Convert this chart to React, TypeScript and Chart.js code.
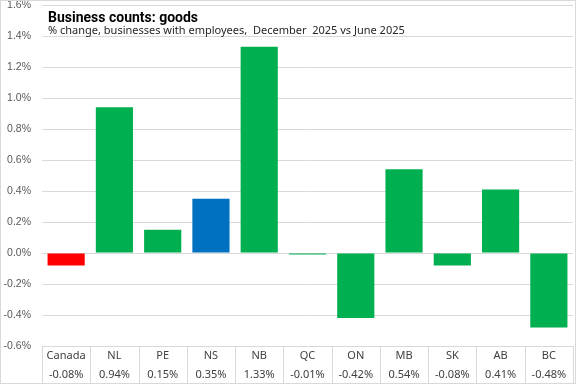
import React, { useEffect, useRef } from "react";
import { Chart, registerables } from "chart.js";

Chart.register(...registerables);

const categories = ["Canada", "NL", "PE", "NS", "NB", "QC", "ON", "MB", "SK", "AB", "BC"];
const values = [-0.08, 0.94, 0.15, 0.35, 1.33, -0.01, -0.42, 0.54, -0.08, 0.41, -0.48];
const valueLabels = ["-0.08%", "0.94%", "0.15%", "0.35%", "1.33%", "-0.01%", "-0.42%", "0.54%", "-0.08%", "0.41%", "-0.48%"];
const barColors = ["#FF0000", "#00B050", "#00B050", "#0070C0", "#00B050", "#00B050", "#00B050", "#00B050", "#00B050", "#00B050", "#00B050"];
const titleText = "Business counts: goods";
const subtitleText = "% change, businesses with employees,  December  2025 vs June 2025";

const FONT = "'Noto Sans', 'Liberation Sans', sans-serif";
const TICK_FONT = "'Liberation Sans', Arial, sans-serif";
const GRID = "#d9d9d9";

const overlayPlugin = {
  id: "overlay",
  afterDraw(chart: any) {
    const { ctx, chartArea } = chart;
    const left = chartArea.left;
    const right = chartArea.right;
    const top = chartArea.bottom;
    const bottom = chart.height;
    const n = categories.length;
    const colW = (right - left) / n;
    ctx.save();
    // table lines
    ctx.strokeStyle = GRID;
    ctx.lineWidth = 1;
    ctx.beginPath();
    for (let i = 0; i <= n; i++) {
      const x = Math.round(left + i * colW) + 0.5;
      ctx.moveTo(x, top);
      ctx.lineTo(x, bottom);
    }
    ctx.stroke();
    // table text
    ctx.fillStyle = "#404040";
    ctx.font = `11px ${FONT}`;
    ctx.textAlign = "center";
    ctx.textBaseline = "middle";
    for (let i = 0; i < n; i++) {
      const cx = left + (i + 0.5) * colW;
      ctx.fillText(categories[i], cx, top + 10);
      ctx.fillText(valueLabels[i], cx, top + 29);
    }
    // title
    ctx.textAlign = "left";
    ctx.textBaseline = "alphabetic";
    ctx.fillStyle = "#000000";
    ctx.font = `bold 14px Roboto, ${FONT}`;
    ctx.fillText(titleText, 48, 22);
    ctx.fillStyle = "#262626";
    ctx.font = `11px ${FONT}`;
    ctx.fillText(subtitleText, 48, 34);
    // outer border
    ctx.strokeStyle = GRID;
    ctx.strokeRect(0.5, 0.5, chart.width - 1, chart.height - 1);
    ctx.restore();
  },
};

export default function App() {
  const ref = useRef<HTMLCanvasElement>(null);
  useEffect(() => {
    document.body.style.margin = "0";
    const chart = new Chart(ref.current!, {
      type: "bar",
      data: {
        labels: categories,
        datasets: [
          {
            data: values,
            backgroundColor: barColors,
            categoryPercentage: 1,
            barPercentage: 0.77,
          },
        ],
      },
      options: {
        animation: false,
        responsive: false,
        maintainAspectRatio: false,
        layout: { padding: { top: 5, bottom: 38, right: 3, left: 0 } },
        plugins: { legend: { display: false }, tooltip: { enabled: false } },
        scales: {
          x: { display: false },
          y: {
            min: -0.6,
            max: 1.6,
            ticks: {
              stepSize: 0.2,
              padding: 11,
              color: "#595959",
              font: { family: TICK_FONT, size: 10.5 },
              callback: (v: any) => Number(v).toFixed(1) + "%",
            },
            grid: { color: GRID, drawTicks: false },
            border: { display: false },
            afterFit: (s: any) => {
              s.width = 42;
              s.paddingTop = 0;
              s.paddingBottom = 0;
            },
          },
        },
      },
      plugins: [overlayPlugin],
    });
    return () => chart.destroy();
  }, []);
  return (
    <div style={{ width: 576, height: 384 }}>
      <canvas ref={ref} width={576} height={384} />
    </div>
  );
}
